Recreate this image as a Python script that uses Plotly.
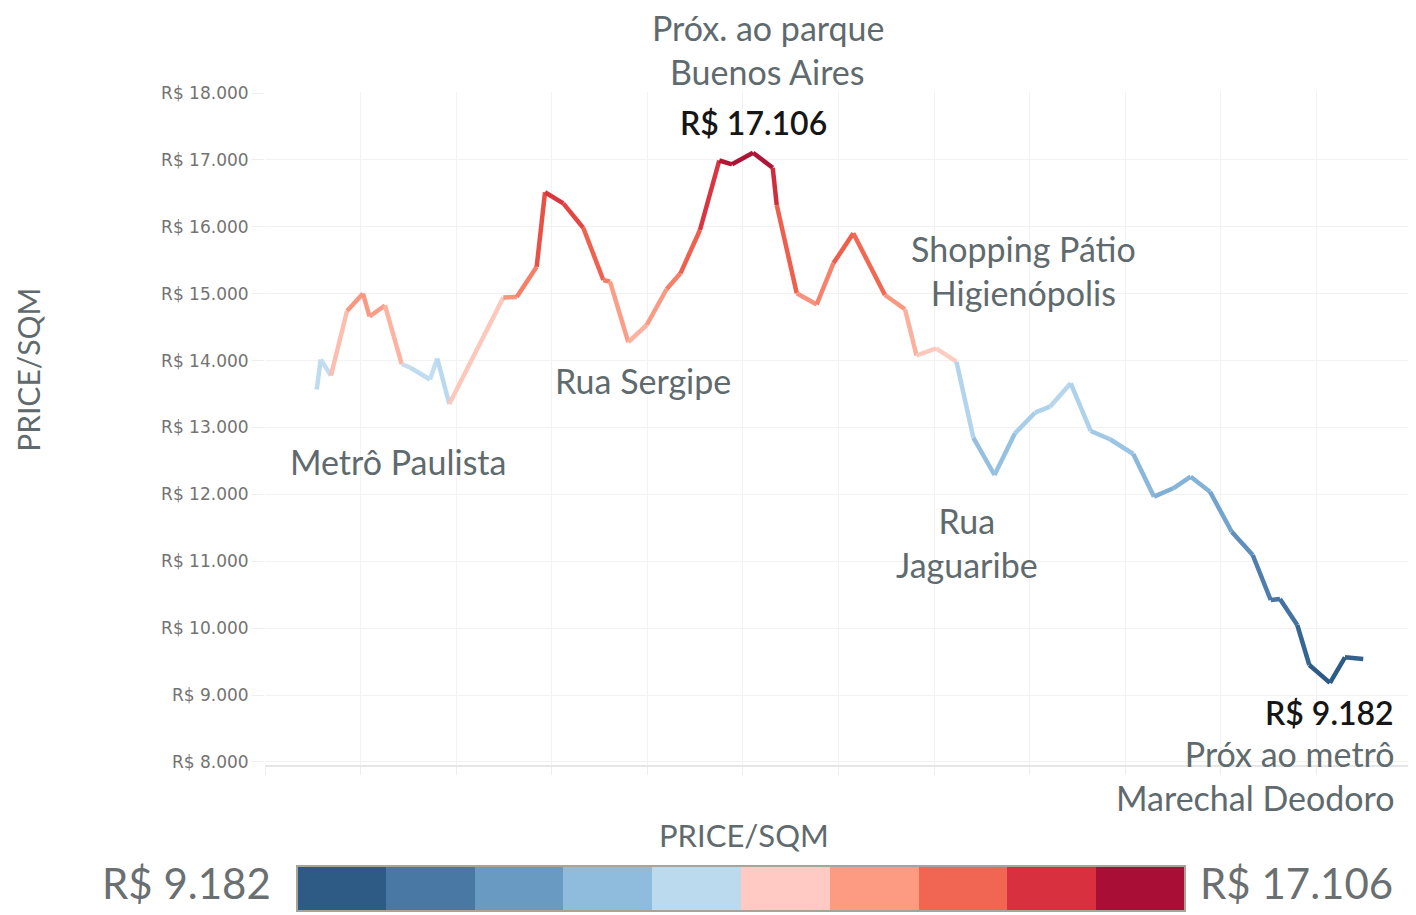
import plotly.graph_objects as go
from plotly.colors import sample_colorscale

# ---- data (position along the route, price per sqm in R$) ----
position = [0.541, 0.583, 0.690, 0.858, 1.025, 1.093, 1.255, 1.430, 1.517, 1.726,
            1.802, 1.928, 2.493, 2.633, 2.842, 2.929, 3.120, 3.329, 3.539, 3.609,
            3.800, 3.993, 4.202, 4.346, 4.550, 4.752, 4.885, 5.105, 5.311, 5.353,
            5.562, 5.771, 5.945, 6.154, 6.485, 6.695, 6.815, 7.019, 7.233, 7.409,
            7.631, 7.845, 8.054, 8.211, 8.428, 8.637, 8.839, 9.083, 9.299, 9.501,
            9.683, 9.885, 10.112, 10.332, 10.520, 10.617, 10.798, 10.924, 11.140, 11.297,
            11.488]
price = [13568, 14016, 13777, 14741, 15003, 14659, 14824, 13949, 13897, 13717,
         14031, 13351, 14943, 14950, 15404, 16517, 16351, 15985, 15205, 15179,
         14275, 14532, 15070, 15305, 15952, 16991, 16934, 17106, 16882, 16326,
         15006, 14839, 15454, 15903, 14980, 14767, 14076, 14184, 13983, 12850,
         12290, 12913, 13221, 13311, 13661, 12948, 12824, 12604, 11966, 12091,
         12264, 12040, 11442, 11094, 10421, 10436, 10048, 9450, 9182, 9565,
         9539]

y_ticks = [8000, 9000, 10000, 11000, 12000, 13000, 14000, 15000, 16000, 17000, 18000]
y_ticktext = ["R$ " + f"{v:,}".replace(",", ".") for v in y_ticks]
legend_colors = ["#2D5B86", "#4A78A5", "#689AC2", "#8FBBDC", "#BBDAEE",
                 "#FECAC3", "#FC9A82", "#F16652", "#D93040", "#A90E37"]

# colour stops for the line, by price value
line_stop_values = [9182, 10000, 11000, 12000, 13000, 13900, 14050, 14500, 15000, 15400, 15900, 16500, 17106]
line_stop_colors = ["#2A5783", "#3D6C9A", "#5584B3", "#7FAED5", "#A5CDE8", "#C2DDF0",
                    "#FDD0C7", "#FBAA94", "#F8907A", "#F26B56", "#EB5547", "#D8323F", "#A50F35"]

pmin, pmax = min(price), max(price)
TEXT = "#5F6A6E"
FONT = "Lato"

cont_scale = [[(v - pmin) / (pmax - pmin), c] for v, c in zip(line_stop_values, line_stop_colors)]

fig = go.Figure()

for i in range(len(price) - 1):
    mid = (price[i] + price[i + 1]) / 2
    t = (mid - pmin) / (pmax - pmin)
    col = sample_colorscale(cont_scale, [t])[0]
    fig.add_trace(go.Scatter(
        x=position[i:i + 2], y=price[i:i + 2], mode="lines",
        line=dict(color=col, width=4.5), showlegend=False, hoverinfo="skip"))

# discrete colour legend
n = len(legend_colors)
disc_scale = []
for k, c in enumerate(legend_colors):
    disc_scale.append([k / n, c])
    disc_scale.append([(k + 1) / n, c])

fig.add_trace(go.Scatter(
    x=position, y=price, mode="markers", showlegend=False,
    marker=dict(color=price, colorscale=disc_scale, cmin=pmin, cmax=pmax, opacity=0, size=2,
                showscale=True,
                colorbar=dict(orientation="h", x=0.4136, xanchor="center",
                              y=-0.22, yanchor="bottom", len=888, lenmode="pixels",
                              thickness=45, thicknessmode="pixels",
                              outlinewidth=2, outlinecolor="#A8A49A",
                              xpad=0, ypad=0, showticklabels=False, ticks="")),
    hovertemplate="R$ %{y}<extra></extra>"))

imax = price.index(pmax)
imin = price.index(pmin)

annotations = [
    dict(text="Próx. ao parque", x=0.437, y=1.0965, size=34, color=TEXT),
    dict(text="Buenos Aires", x=0.437, y=1.030, size=34, color=TEXT),
    dict(text="Shopping Pátio<br>Higienópolis", x=0.659, y=0.7355, size=34, color=TEXT),
    dict(text="Rua Sergipe", x=0.328, y=0.572, size=34, color=TEXT),
    dict(text="Metrô Paulista", x=0.1156, y=0.4517, size=34, color=TEXT),
    dict(text="Rua<br>Jaguaribe", x=0.610, y=0.330, size=34, color=TEXT),
    dict(text="PRICE/SQM", x=0.416, y=-0.104, size=31, color=TEXT),
]
for a in annotations:
    fig.add_annotation(text=a["text"], x=a["x"], y=a["y"], xref="paper", yref="paper",
                       showarrow=False, xanchor="center", yanchor="middle", borderpad=0,
                       font=dict(family=FONT, size=a["size"], color=a["color"]))

# legend end labels
for txt, xp in [("R$ 9.182", -0.0678), ("R$ 17.106", 0.8966)]:
    fig.add_annotation(text=txt, x=xp, y=-0.2155, xref="paper", yref="paper",
                       showarrow=False, xanchor="center", yanchor="bottom",
                       font=dict(family=FONT, size=42, color="#6A6F72"))

fig.add_annotation(text="Próx ao metrô<br>Marechal Deodoro", x=0.9835, y=-0.0163,
                   xref="paper", yref="paper", showarrow=False, xanchor="right",
                   yanchor="middle", align="right",
                   font=dict(family=FONT, size=34, color=TEXT))

fig.add_annotation(text="PRICE/SQM", x=-0.206, y=0.587, xref="paper", yref="paper",
                   showarrow=False, textangle=-90, xanchor="center", yanchor="middle",
                   font=dict(family=FONT, size=30, color=TEXT))

# value labels for the extremes
fig.add_annotation(text="R$ 17.106", x=position[imax], y=pmax, xref="x", yref="y",
                   showarrow=False, yshift=30, yanchor="middle",
                   font=dict(family=FONT, size=32, color="#161616", weight=600))
fig.add_annotation(text="R$ 9.182", x=position[imin], y=pmin, xref="x", yref="y",
                   showarrow=False, yshift=-30, yanchor="middle",
                   font=dict(family=FONT, size=32, color="#161616", weight=600))

# page body has an 8px margin: shift the layout up-left to compensate
fig.update_layout(
    width=1416, height=915,
    margin=dict(l=257, r=8, t=84, b=158, autoexpand=False),
    paper_bgcolor="white", plot_bgcolor="white",
    xaxis=dict(range=[0, 12.04], tickvals=list(range(13)), showticklabels=False,
               showgrid=True, gridcolor="#F2F2F2", gridwidth=1,
               ticks="outside", ticklen=8, tickcolor="#EEEEEE",
               showline=True, linecolor="#E6E6E6", linewidth=2, zeroline=False),
    yaxis=dict(range=[7955, 18015], tickvals=y_ticks, ticktext=y_ticktext,
               showgrid=True, gridcolor="#F2F2F2", gridwidth=1,
               ticks="outside", ticklen=12, tickcolor="#EEEEEE",
               tickfont=dict(family="DejaVu Sans", size=17, color="#737373"),
               zeroline=False, showline=False),
)

fig.write_html("out.html")
